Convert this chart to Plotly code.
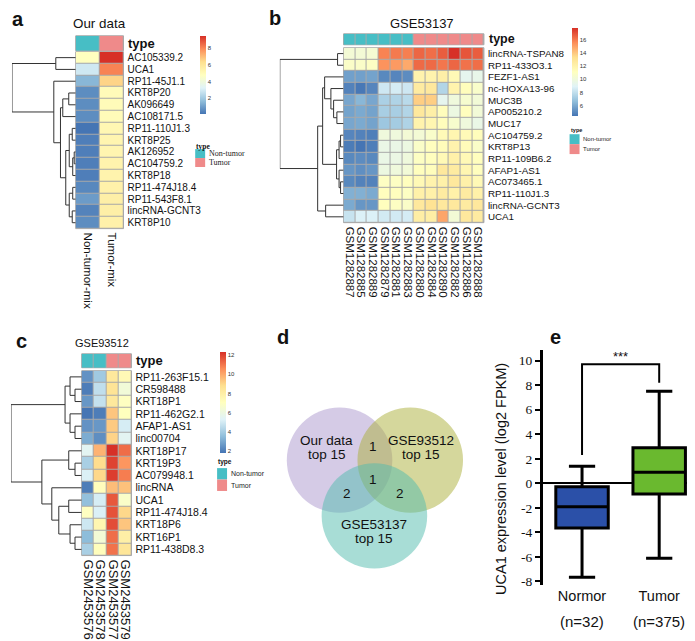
import plotly.graph_objects as go

W, H = 695, 641

# ------------------------------------------------------------------ data
# Panel a : "Our data"
a_genes = ["AC105339.2", "UCA1", "RP11-45J1.1", "KRT8P20", "AK096649", "AC108171.5",
           "RP11-110J1.3", "KRT8P25", "AK126952", "AC104759.2", "KRT8P18",
           "RP11-474J18.4", "RP11-543F8.1", "lincRNA-GCNT3", "KRT8P10"]
a_samples = ["Non-tumor-mix", "Tumor-mix"]
a_sample_type = ["Non-tumor", "Tumor"]
a_nontumor_mix = [4.8, 2.9, 1.5, 0.6, 0.6, 0.6, 0.1, 0.3, 0.3, 0.3, 0.3, 0.5, 0.9, 0.4, 0.6]
a_tumor_mix = [9.5, 8.1, 6.6, 5.0, 5.0, 5.0, 5.2, 5.3, 5.3, 5.4, 5.4, 5.5, 5.6, 5.6, 5.5]
a_scale_ticks = [2, 4, 6, 8]
# dendrogram (height, left, right) ; ints are leaf rows
a_tree = (64, (20, 0, 1),
          (22, 2, (15.3, (13, (7, 3, 4), 5),
                   (10, (6.5, (3.5, 6, 7), (3, (1.5, 8, 9), 10)),
                        (6.5, (3, 11, 12), (3.5, 13, 14))))))

# Panel b : GSE53137
b_genes = ["lincRNA-TSPAN8", "RP11-433O3.1", "FEZF1-AS1", "nc-HOXA13-96", "MUC3B",
           "AP005210.2", "MUC17", "AC104759.2", "KRT8P13", "RP11-109B6.2",
           "AFAP1-AS1", "AC073465.1", "RP11-110J1.3", "lincRNA-GCNT3", "UCA1"]
b_samples = ["GSM1282887", "GSM1282885", "GSM1282889", "GSM1282879", "GSM1282881",
             "GSM1282883", "GSM1282880", "GSM1282884", "GSM1282890", "GSM1282882",
             "GSM1282886", "GSM1282888"]
b_sample_type = ["Non-tumor", "Non-tumor", "Non-tumor", "Non-tumor", "Non-tumor", "Non-tumor",
                 "Tumor", "Tumor", "Tumor", "Tumor", "Tumor", "Tumor"]
b_values = [
    [10.3, 10.3, 10.4, 15.9, 16.1, 16.0, 16.6, 16.4, 16.8, 17.9, 17.0, 16.8],
    [10.8, 10.8, 11.0, 15.5, 15.3, 14.9, 16.5, 16.5, 16.2, 16.6, 16.3, 16.4],
    [5.7, 5.7, 5.8, 5.0, 4.9, 5.1, 12.0, 12.0, 12.3, 11.6, 9.3, 9.5],
    [4.8, 4.5, 4.9, 8.4, 8.6, 8.4, 12.6, 12.8, 7.6, 12.0, 11.3, 10.7],
    [5.9, 6.4, 5.9, 7.4, 7.5, 7.8, 13.9, 13.9, 9.3, 10.0, 10.5, 10.2],
    [5.8, 6.0, 5.8, 7.3, 7.3, 7.6, 12.8, 12.3, 11.3, 9.8, 11.2, 10.2],
    [5.9, 6.0, 5.8, 7.0, 7.2, 7.5, 12.0, 11.8, 11.3, 10.6, 10.0, 9.6],
    [4.9, 4.8, 4.7, 10.0, 10.0, 10.3, 10.3, 10.7, 11.5, 11.8, 11.5, 11.3],
    [4.6, 4.4, 4.7, 9.6, 9.6, 9.8, 10.8, 11.2, 11.4, 12.0, 11.4, 10.8],
    [5.0, 5.1, 5.0, 9.6, 9.7, 10.0, 11.0, 11.2, 11.6, 12.2, 11.6, 11.2],
    [5.4, 5.2, 5.4, 9.8, 10.0, 10.2, 11.2, 11.3, 12.8, 12.6, 11.8, 11.2],
    [5.0, 4.8, 4.8, 11.0, 11.0, 11.2, 11.6, 12.0, 12.2, 12.8, 12.2, 11.6],
    [6.2, 6.2, 6.0, 11.2, 11.2, 11.0, 12.2, 12.2, 12.6, 12.2, 12.6, 12.2],
    [6.0, 5.4, 5.4, 11.2, 11.0, 10.8, 12.8, 13.2, 12.8, 12.8, 12.6, 12.8],
    [8.2, 8.8, 8.8, 8.5, 8.5, 8.6, 12.4, 12.4, 15.0, 10.3, 12.8, 12.6],
]
b_scale_ticks = [6, 8, 10, 12, 14, 16]
b_tree = (64, (6, 0, 1),
          (26, (21, (19, 2, (12.7, 3, (10, 4, (6.7, 5, 6)))),
                    (7, (4.5, (3, 7, 8), 9), (4.5, 10, (3, 11, 12)))),
               (18, 13, 14)))

# Panel c : GSE93512
c_genes = ["RP11-263F15.1", "CR598488", "KRT18P1", "RP11-462G2.1", "AFAP1-AS1", "linc00704",
           "KRT18P17", "KRT19P3", "AC079948.1", "lincRNA", "UCA1", "RP11-474J18.4",
           "KRT18P6", "KRT16P1", "RP11-438D8.3"]
c_samples = ["GSM2453576", "GSM2453578", "GSM2453577", "GSM2453579"]
c_sample_type = ["Non-tumor", "Non-tumor", "Tumor", "Tumor"]
c_values = [
    [2.5, 3.9, 8.4, 7.4],
    [2.0, 4.6, 8.6, 6.3],
    [2.6, 4.7, 8.4, 7.0],
    [1.8, 2.0, 9.4, 7.1],
    [2.5, 2.6, 9.3, 5.1],
    [3.1, 2.4, 9.1, 5.5],
    [5.5, 9.8, 12.35, 11.2],
    [4.1, 8.9, 12.0, 10.4],
    [5.2, 9.0, 12.1, 10.9],
    [2.0, 7.2, 9.6, 9.5],
    [3.6, 5.1, 11.6, 6.8],
    [7.0, 5.2, 11.7, 9.0],
    [4.9, 7.6, 11.8, 9.4],
    [3.5, 6.4, 11.2, 8.0],
    [4.1, 7.2, 11.1, 8.5],
]
c_scale_ticks = [2, 4, 6, 8, 10, 12]
c_tree = (71, (16.7, (11.7, 0, (6.7, 1, 2)), (11.7, 3, (6.7, 4, 5))),
          (40, (13, 6, (6.7, 7, 8)),
               (30, 9, (23, (13, 10, 11), (11.7, 12, (6.7, 13, 14))))))

# Panel d : Venn of top-15 lists
venn_set_names = ["Our data", "GSE93512", "GSE53137"]
venn_set_suffix = "top 15"
venn_region_names = ["Our data & GSE93512", "all three", "Our data & GSE53137", "GSE93512 & GSE53137"]
venn_region_counts = [1, 1, 2, 2]

# Panel e : UCA1 boxplot
e_groups = ["Normor", "Tumor"]
e_n = [32, 375]
e_lowerfence = [-7.65, -6.1]
e_q1 = [-3.65, -0.87]
e_median = [-1.9, 0.9]
e_q3 = [-0.28, 2.9]
e_upperfence = [1.4, 7.5]
e_bracket_y = [2.3, 9.7, 9.7, 8.2]
e_sig = "***"
e_yticks = [-8, -6, -4, -2, 0, 2, 4, 6, 8, 10]
e_yticktext = ["-8", "-6", "-4", "-2", "0", "2", "4", "6", "8", "10"]

# ------------------------------------------------------------------ styles
RDYLBU = ["#4575B4", "#91BFDB", "#E0F3F8", "#FFFFBF", "#FEE090", "#FC8D59", "#D73027"]
COLORSCALE = [[i / 6, c] for i, c in enumerate(RDYLBU)]
TYPE_COLORS = {"Non-tumor": "#47BEC5", "Tumor": "#EF8A8A"}
GRID = "#A8A8A8"
SANS = "Liberation Sans"
SERIF = "Liberation Serif"


def xd(l, r):
    return [l / W, r / W]


def yd(t, b):
    return [1 - b / H, 1 - t / H]


def px(x):
    return x / W


def py(y):
    return 1 - y / H


def xn(i):
    return "x" if i == 1 else f"x{i}"


def yn(i):
    return "y" if i == 1 else f"y{i}"


def xk(i):
    return "xaxis" if i == 1 else f"xaxis{i}"


def yk(i):
    return "yaxis" if i == 1 else f"yaxis{i}"


fig = go.Figure()
layout = dict(width=W, height=H, margin=dict(l=0, r=0, t=0, b=0),
              paper_bgcolor="white", plot_bgcolor="white", showlegend=False,
              boxmode="overlay", font=dict(family=SANS, color="#111111"))
shapes, annotations = [], []


def dendro_xy(tree):
    xs, ys = [], []

    def walk(node):
        if isinstance(node, int):
            return float(node), 0.0
        h, left, right = node
        yl, hl = walk(left)
        yr, hr = walk(right)
        xs.extend([hl, h, h, hr, None])
        ys.extend([yl, yl, yr, yr, None])
        return (yl + yr) / 2, h

    walk(tree)
    return xs, ys


def text(x, y, s, size, xanchor="left", family=SANS, color="#111111", bold=False, angle=0):
    if bold:
        s = f"<b>{s}</b>"
    annotations.append(dict(x=px(x), y=py(y), xref="paper", yref="paper", text=s,
                            showarrow=False, xanchor=xanchor, yanchor="middle",
                            textangle=angle, font=dict(size=size, family=family, color=color)))


def heat_panel(k, genes, samples, types, z, zmin, zmax, ticks, tree, g):
    ng, ns = len(genes), len(samples)
    hxd, hyd = xd(*g["heat_x"]), yd(*g["heat_y"])
    fig.add_trace(go.Heatmap(
        z=z, x=samples, y=genes, zmin=zmin, zmax=zmax, colorscale=COLORSCALE,
        xgap=1, ygap=1, xaxis=xn(k), yaxis=yn(k), hoverinfo="skip",
        colorbar=dict(x=px(g["cbar"][0]), xanchor="left", y=py(g["cbar"][1]), yanchor="top",
                      len=g["cbar"][2] - g["cbar"][1], lenmode="pixels", thickness=6,
                      thicknessmode="pixels", xpad=0, ypad=0, outlinewidth=0, ticks="",
                      tickvals=ticks, tickfont=dict(size=6, color="#333333", family=SANS))))
    layout[xk(k)] = dict(domain=hxd, anchor=yn(k), type="category", range=[-0.5, ns - 0.5],
                         tickmode="array", tickvals=samples, ticktext=samples,
                         tickangle=90, tickfont=dict(size=g["col_font"], color="#111111"),
                         ticks="", showgrid=False, zeroline=False, showline=False,
                         ticklabelstandoff=3)
    layout[yk(k)] = dict(domain=hyd, anchor=xn(k), side="right", type="category",
                         tickmode="array", tickvals=genes, ticktext=genes,
                         range=[ng - 0.5, -0.5], tickfont=dict(size=g["row_font"], color="#111111"),
                         ticks="", showgrid=False, zeroline=False, showline=False,
                         ticklabelstandoff=3)
    shapes.append(dict(type="rect", xref=f"{xn(k)} domain", yref=f"{yn(k)} domain",
                       x0=0, x1=1, y0=0, y1=1, fillcolor=GRID,
                       line=dict(color=GRID, width=1), layer="below"))
    # annotation bar
    codes = [0 if t == "Non-tumor" else 1 for t in types]
    c0, c1 = TYPE_COLORS["Non-tumor"], TYPE_COLORS["Tumor"]
    fig.add_trace(go.Heatmap(z=[codes], x=samples, y=["type"], zmin=0, zmax=1,
                             colorscale=[[0, c0], [0.5, c0], [0.5, c1], [1, c1]],
                             showscale=False, xgap=1, xaxis=xn(k + 1), yaxis=yn(k + 1),
                             hoverinfo="skip"))
    layout[xk(k + 1)] = dict(domain=hxd, anchor=yn(k + 1), type="category",
                             range=[-0.5, ns - 0.5], visible=False)
    layout[yk(k + 1)] = dict(domain=yd(*g["annot_y"]), anchor=xn(k + 1), type="category",
                             range=[-0.5, 0.5], visible=False)
    shapes.append(dict(type="rect", xref=f"{xn(k + 1)} domain", yref=f"{yn(k + 1)} domain",
                       x0=0, x1=1, y0=0, y1=1, fillcolor=GRID,
                       line=dict(color=GRID, width=1), layer="below"))
    text(g["heat_x"][1] + 3, (g["annot_y"][0] + g["annot_y"][1]) / 2, "type",
         g["type_font"], bold=True)
    # dendrogram
    dx, dy = dendro_xy(tree)
    fig.add_trace(go.Scatter(x=dx, y=dy, mode="lines", line=dict(color="#333333", width=1),
                             xaxis=xn(k + 2), yaxis=yn(k + 2), hoverinfo="skip",
                             cliponaxis=False))
    layout[xk(k + 2)] = dict(domain=xd(g["dendro_left"], g["heat_x"][0]), anchor=yn(k + 2),
                             range=[tree[0], 0], visible=False)
    layout[yk(k + 2)] = dict(domain=hyd, anchor=xn(k + 2), range=[ng - 0.5, -0.5],
                             visible=False)
    # title + letter
    text(g["title"][0], g["title"][1], g["title"][2], g["title"][3], xanchor="center")
    text(g["letter"][0], g["letter"][1], g["letter"][2], 20, bold=True)
    # legend for type
    lx, lty, stop, sh, sw, lf, fam = g["legend"]
    text(lx - 1, lty, "type", lf - 0.5, bold=True, family=fam)
    for i, t in enumerate(["Non-tumor", "Tumor"]):
        y0 = stop + i * sh
        shapes.append(dict(type="rect", xref="paper", yref="paper", x0=px(lx), x1=px(lx + sw),
                           y0=py(y0 + sh), y1=py(y0), fillcolor=TYPE_COLORS[t],
                           line=dict(width=0)))
        text(lx + sw + 1.5, y0 + sh / 2, t, lf, family=fam, color="#222222")


heat_panel(1, a_genes, a_samples, a_sample_type,
           [[a_nontumor_mix[i], a_tumor_mix[i]] for i in range(len(a_genes))],
           0.1, 9.5, a_scale_ticks, a_tree,
           dict(heat_x=(67, 115), heat_y=(44, 222), annot_y=(28, 43), dendro_left=3,
                cbar=(192, 28, 106), col_font=11.5, row_font=10, type_font=13,
                title=(91, 16, "Our data", 13.4), letter=(1, 11, "a"),
                legend=(187, 139, 142, 9, 10, 8, SERIF)))

heat_panel(4, b_genes, b_samples, b_sample_type, b_values, 4.4, 17.9, b_scale_ticks, b_tree,
           dict(heat_x=(336, 477), heat_y=(40, 216), annot_y=(26, 37), dendro_left=272,
                cbar=(565, 20, 108), col_font=11.5, row_font=9.8, type_font=12.5,
                title=(415, 16, "GSE53137", 13), letter=(259, 10, "b"),
                legend=(563, 123, 127, 10, 10, 6, SANS)))

heat_panel(7, c_genes, c_samples, c_sample_type, c_values, 1.8, 12.35, c_scale_ticks, c_tree,
           dict(heat_x=(73, 123), heat_y=(365, 551), annot_y=(348, 362), dendro_left=2,
                cbar=(212, 346, 447), col_font=13, row_font=10.5, type_font=13,
                title=(93, 337, "GSE93512", 11), letter=(5, 335, "c"),
                legend=(209, 457, 463, 11.5, 10, 7, SANS)))

# ------------------------------------------------------------------ panel d (Venn)
VX0, VX1, VY0, VY1 = 270, 470, 395, 575
layout[xk(10)] = dict(domain=xd(VX0, VX1), anchor=yn(10), range=[0, VX1 - VX0], visible=False)
layout[yk(10)] = dict(domain=yd(VY0, VY1), anchor=xn(10), range=[0, VY1 - VY0], visible=False)
venn_circles = [(62, 120, "#AB97CD"), (133, 120, "#ABAF39"), (97, 64, "#51BBAD")]
R = 53
for cx, cy, col in venn_circles:
    shapes.append(dict(type="circle", xref="x10", yref="y10", x0=cx - R, x1=cx + R,
                       y0=cy - R, y1=cy + R, fillcolor=col, opacity=0.5, line=dict(width=0)))
set_label_pos = [(49, 133), (144, 133), (97, 48)]
for (x, y), name in zip(set_label_pos, venn_set_names):
    for dy, s in ((7, name), (-7, venn_set_suffix)):
        annotations.append(dict(x=x, y=y + dy, xref="x10", yref="y10", text=s, showarrow=False,
                                font=dict(size=13.5, family=SANS, color="#111111")))
region_pos = [(96, 134), (96, 101), (69, 86), (123, 86)]
for (x, y), cnt in zip(region_pos, venn_region_counts):
    annotations.append(dict(x=x, y=y, xref="x10", yref="y10", text=str(cnt), showarrow=False,
                            font=dict(size=13.5, family=SANS, color="#111111")))
text(267, 331, "d", 20, bold=True)

# ------------------------------------------------------------------ panel e (boxplot)
box_colors = ["#2B50A8", "#6AB92F"]
for i, g in enumerate(e_groups):
    fig.add_trace(go.Box(x=[g], q1=[e_q1[i]], median=[e_median[i]], q3=[e_q3[i]],
                         lowerfence=[e_lowerfence[i]], upperfence=[e_upperfence[i]],
                         fillcolor=box_colors[i], line=dict(color="black", width=3),
                         width=0.68, whiskerwidth=0.5, boxpoints=False,
                         xaxis="x11", yaxis="y11", hoverinfo="skip"))
fig.add_trace(go.Scatter(x=[e_groups[0], e_groups[0], e_groups[1], e_groups[1]], y=e_bracket_y,
                         mode="lines", line=dict(color="black", width=2),
                         xaxis="x11", yaxis="y11", hoverinfo="skip"))
annotations.append(dict(x=0.5, y=e_bracket_y[1], xref="x11", yref="y11", text=e_sig,
                        showarrow=False, yanchor="bottom", yshift=-2,
                        font=dict(size=13, family=SANS, color="#111111")))
layout[xk(11)] = dict(domain=xd(536, 693), anchor=yn(11), type="category",
                      categoryarray=e_groups, range=[-0.51, 1.516], showline=False, ticks="",
                      showgrid=False, zeroline=False,
                      tickfont=dict(size=14.5, family=SANS, color="#111111"),
                      ticklabelstandoff=0)
layout[yk(11)] = dict(domain=yd(343.7, 580.8), anchor=xn(11), range=[-8.3, 10.9],
                      showline=True, linecolor="black", linewidth=2.5, ticks="outside",
                      ticklen=5, tickwidth=2, tickcolor="black", tickvals=e_yticks,
                      ticktext=e_yticktext, tickfont=dict(size=13.5, family=SERIF, color="#111111"),
                      showgrid=False, zeroline=True, zerolinecolor="black", zerolinewidth=2)
for g, n in zip(e_groups, e_n):
    annotations.append(dict(x=g, y=py(617), xref="x11", yref="paper", text=f"(n={n})",
                            showarrow=False, yanchor="middle",
                            font=dict(size=15, family=SANS, color="#111111")))
text(494, 474, "UCA1 expression level (log2 FPKM)", 14.5, xanchor="center", angle=-90)
text(541, 331, "e", 20, bold=True)

layout["shapes"] = shapes
layout["annotations"] = annotations
fig.update_layout(**layout)
fig.write_html("out.html")
